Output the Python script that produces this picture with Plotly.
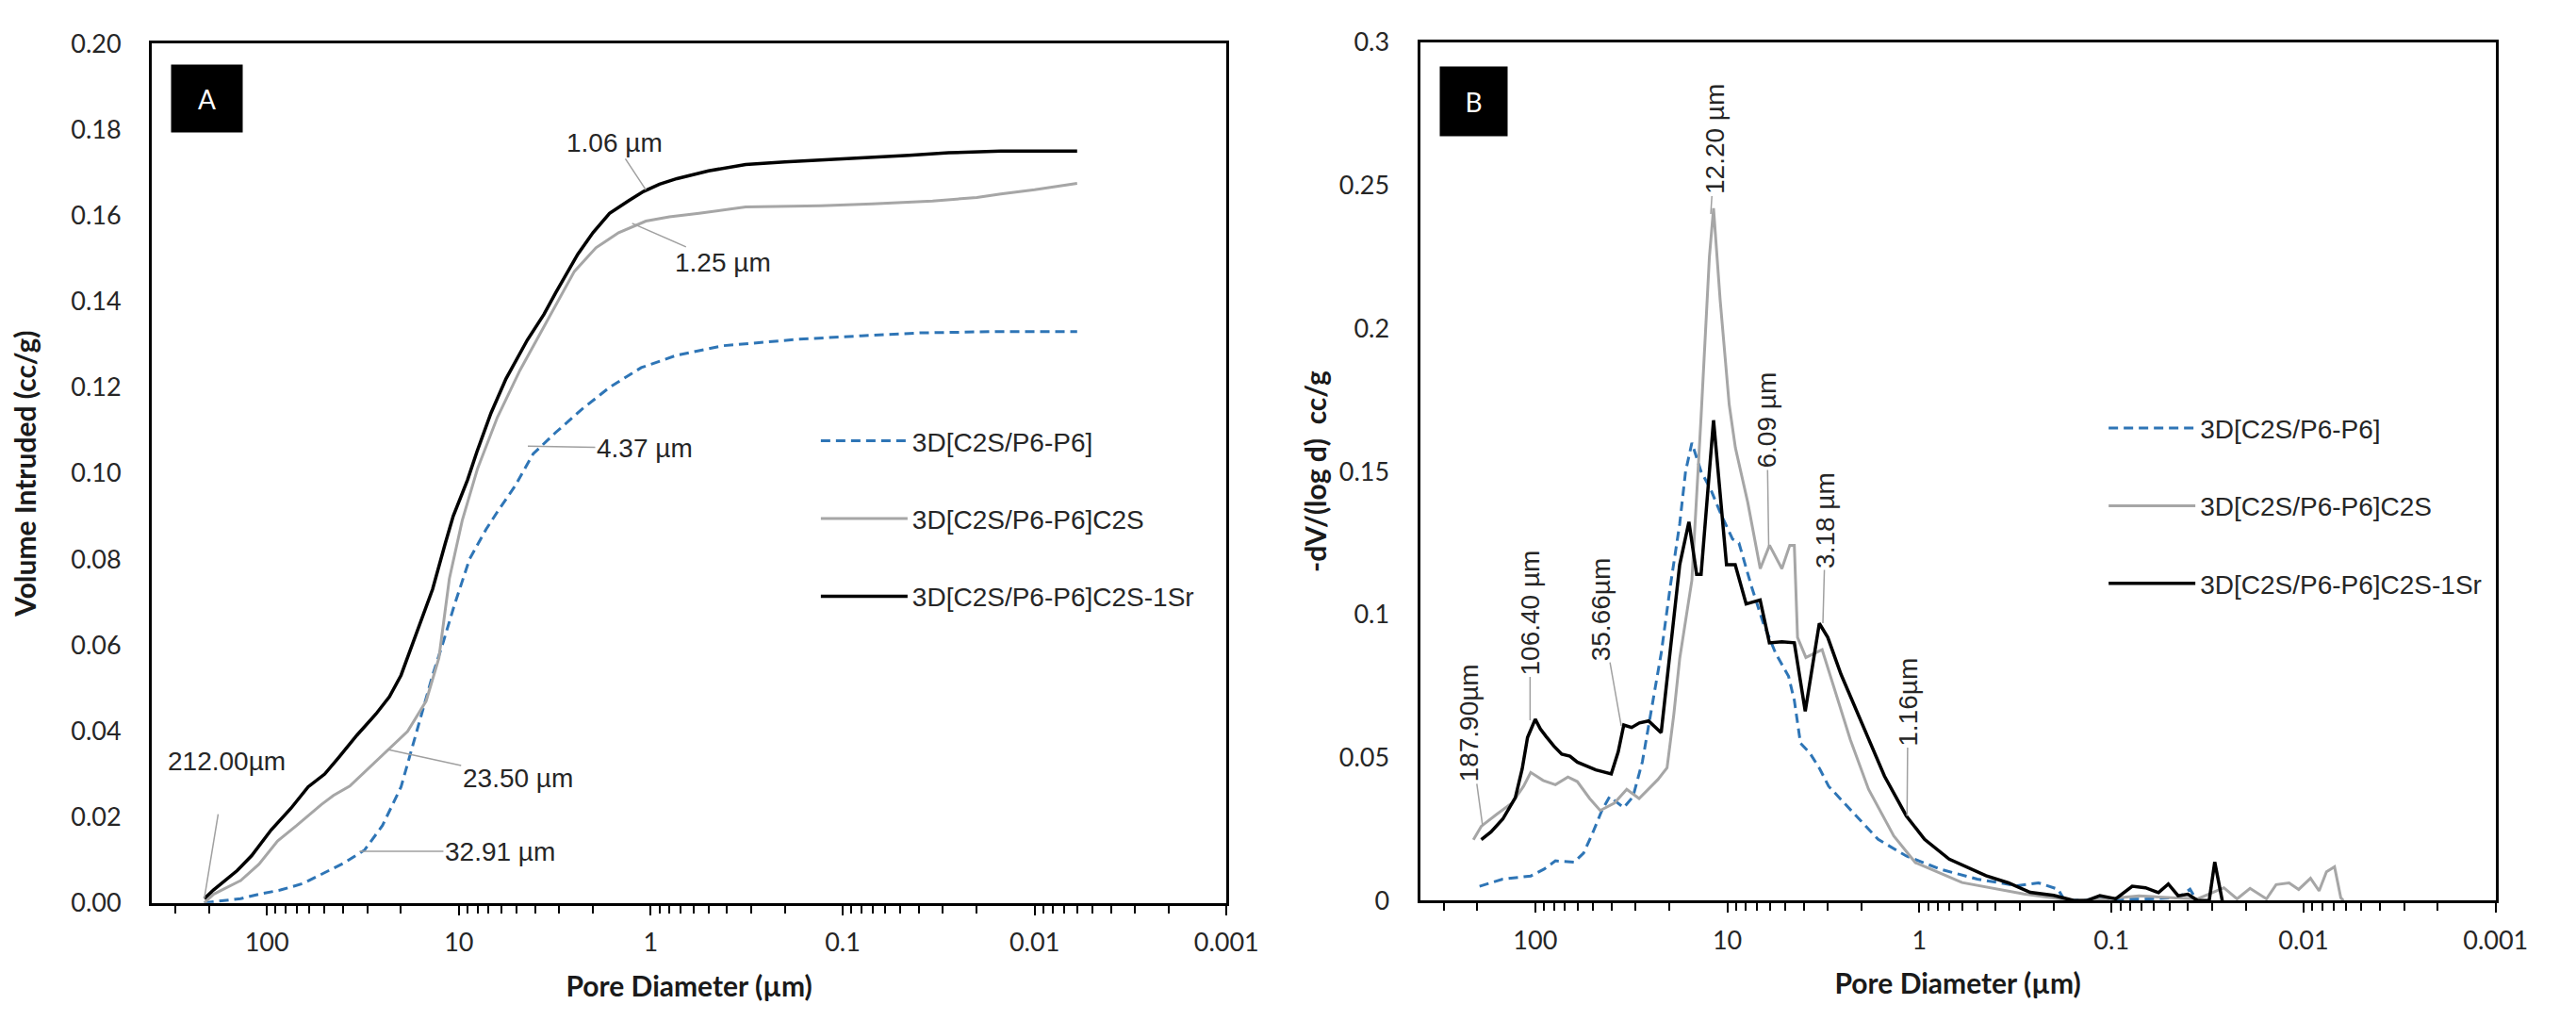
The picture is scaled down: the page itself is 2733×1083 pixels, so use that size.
import math
import plotly.graph_objects as go

# ---------------- Data ----------------
SERIES_NAMES = ["3D[C2S/P6-P6]", "3D[C2S/P6-P6]C2S", "3D[C2S/P6-P6]C2S-1Sr"]

# Panel A: cumulative volume intruded (cc/g) vs pore diameter (µm)
A_BLUE_D = [212, 170, 137, 110, 85, 65, 52, 40, 31, 25, 20, 16.5, 13.7, 12, 10.6, 8.8, 7.2, 6.3, 5.1, 4.1,
            3.13, 2.27, 1.64, 1.12, 0.73, 0.42, 0.17, 0.08, 0.039, 0.015, 0.006]
A_BLUE_V = [0.000, 0.0005, 0.001, 0.002, 0.003, 0.0045, 0.0066, 0.0092, 0.0123, 0.018, 0.027, 0.040, 0.053,
            0.061, 0.069, 0.080, 0.087, 0.091, 0.097, 0.1045, 0.1095, 0.115, 0.120, 0.1246, 0.1275, 0.1297,
            0.1312, 0.1320, 0.1327, 0.1330, 0.1330]

A_GRAY_D = [212, 190, 137, 110, 88, 70, 52, 45, 37, 30, 23.1, 18.5, 14.8, 12.7, 11.2, 9.6, 8.0, 6.3, 4.8,
            3.6, 2.5, 1.93, 1.47, 1.06, 0.8, 0.56, 0.32, 0.13, 0.07, 0.034, 0.02, 0.015, 0.01, 0.006]
A_GRAY_V = [0.000, 0.002, 0.0052, 0.009, 0.0144, 0.018, 0.0229, 0.025, 0.0272, 0.031, 0.0357, 0.0399, 0.047,
            0.057, 0.0755, 0.089, 0.101, 0.113, 0.124, 0.134, 0.147, 0.1525, 0.156, 0.1587, 0.1597, 0.1605,
            0.1620, 0.1623, 0.1627, 0.1634, 0.1642, 0.1650, 0.1660, 0.1675]

A_BLACK_D = [212, 190, 143, 120, 95, 75, 61, 50, 42, 34, 27, 23, 20, 16.5, 13.7, 11.8, 10.7, 9.0, 8.05,
             6.8, 5.68, 4.4, 3.6, 3.13, 2.4, 2.0, 1.64, 1.3, 1.09, 0.9, 0.73, 0.5, 0.32, 0.2, 0.12, 0.075,
             0.045, 0.028, 0.015, 0.01, 0.006]
A_BLACK_V = [0.001, 0.003, 0.0075, 0.011, 0.017, 0.022, 0.027, 0.030, 0.034, 0.039, 0.044, 0.048, 0.053,
             0.063, 0.073, 0.0835, 0.090, 0.0985, 0.105, 0.114, 0.122, 0.131, 0.137, 0.142, 0.151, 0.156,
             0.1605, 0.1635, 0.1656, 0.1673, 0.1686, 0.1704, 0.1719, 0.1725, 0.1730, 0.1734, 0.1740,
             0.1746, 0.1750, 0.1750, 0.1750]

# Panel B: -dV/(log d) (cc/g) vs pore diameter (µm)
B_BLUE_D = [195, 147.6, 105.6, 90, 78.5, 62.8, 56, 50, 45, 41, 34.6, 31, 27.7, 24.8, 22.1, 19.8, 17.7, 16.5,
            15.3, 13.7, 12.2, 10.9, 9.4, 8.7, 7.5, 6.5, 5.6, 4.8, 4.48, 4.16, 3.72, 3.3, 2.97, 2.21, 1.64,
            1.17, 0.78, 0.50, 0.31, 0.24, 0.19, 0.175, 0.11, 0.07, 0.045, 0.039, 0.036]
B_BLUE_V = [0.005, 0.0075, 0.0086, 0.011, 0.0139, 0.0134, 0.0166, 0.024, 0.0315, 0.0363, 0.0325, 0.0363,
            0.0485, 0.0664, 0.0864, 0.110, 0.1317, 0.150, 0.160, 0.150, 0.1437, 0.1357, 0.1264, 0.125, 0.110,
            0.097, 0.0864, 0.0784, 0.070, 0.055, 0.0516, 0.046, 0.040, 0.0307, 0.0214, 0.0156, 0.011,
            0.0075, 0.0052, 0.0062, 0.004, 0.000, 0.0006, 0.0005, 0.001, 0.004, 0.000]

B_GRAY_D = [210, 191, 160, 132, 115, 105.6, 91, 78.5, 67.6, 60.4, 52.1, 45.9, 38.7, 33.4, 28.8, 23, 20.6,
            19.0, 17.7, 15.3, 13.7, 12.4, 11.8, 10.9, 9.78, 9.08, 7.83, 6.74, 6.03, 5.2, 4.73, 4.48, 4.31,
            3.9, 3.21, 2.86, 2.29, 1.84, 1.36, 1.05, 0.60, 0.286, 0.157, 0.106, 0.072, 0.0486, 0.0356,
            0.026, 0.0222, 0.019, 0.0156, 0.0139, 0.0119, 0.0106, 0.0092, 0.0083, 0.0076, 0.0069, 0.0064,
            0.0062]
B_GRAY_V = [0.0213, 0.026, 0.030, 0.0341, 0.040, 0.0448, 0.042, 0.0405, 0.0432, 0.0416, 0.0357, 0.0315,
            0.0341, 0.0389, 0.0357, 0.0423, 0.0464, 0.065, 0.0846, 0.1119, 0.169, 0.225, 0.242, 0.210,
            0.1734, 0.1583, 0.1392, 0.116, 0.1242, 0.116, 0.1242, 0.1242, 0.092, 0.085, 0.0877, 0.0772,
            0.0563, 0.0389, 0.0226, 0.0133, 0.0063, 0.0023, 0.000, 0.0006, 0.0017, 0.001, 0.0006, 0.0045,
            0.0006, 0.0043, 0.0006, 0.0056, 0.0062, 0.0039, 0.0078, 0.0034, 0.0101, 0.0118, 0.001, 0.000]

B_BLACK_D = [191, 170, 147.6, 127, 117, 109.7, 100, 94, 87.7, 80, 72.8, 66, 60.4, 54, 48.4, 40.2, 37, 34.6,
             31.5, 28.7, 25.7, 22.1, 19.8, 17.7, 15.85, 14.45, 13.7, 11.8, 10.1, 9.1, 7.98, 6.75, 6.04, 5.2,
             4.48, 3.93, 3.32, 3.0, 2.56, 2.0, 1.84, 1.52, 1.17, 0.94, 0.70, 0.45, 0.344, 0.265, 0.20,
             0.157, 0.135, 0.115, 0.095, 0.078, 0.0665, 0.0569, 0.0506, 0.045, 0.04, 0.0356, 0.031, 0.029,
             0.0265]
B_BLACK_V = [0.0213, 0.024, 0.0285, 0.036, 0.046, 0.057, 0.0634, 0.060, 0.0573, 0.054, 0.0512, 0.0505,
             0.0484, 0.047, 0.0457, 0.0443, 0.052, 0.0614, 0.0605, 0.0621, 0.0628, 0.0587, 0.0873, 0.1174,
             0.1324, 0.114, 0.114, 0.1679, 0.1174, 0.1174, 0.1037, 0.1051, 0.0901, 0.0905, 0.0901, 0.0662,
             0.0969, 0.092, 0.0791, 0.062, 0.0563, 0.0435, 0.0296, 0.0214, 0.0145, 0.0087, 0.0062, 0.0029,
             0.0018, 0.000, 0.000, 0.0017, 0.0006, 0.005, 0.0045, 0.0028, 0.0058, 0.0017, 0.0022, 0.000,
             0.000, 0.0135, 0.000]

X_TICK_VALS = [100, 10, 1, 0.1, 0.01, 0.001]
X_TICK_TEXT = ["100", "10", "1", "0.1", "0.01", "0.001"]

# annotations: (text, diameter, value)
A_NOTES = [("1.06 µm", 1.06, 0.1660), ("1.25 µm", 1.25, 0.1582), ("4.37 µm", 4.37, 0.1063),
           ("23.50 µm", 23.5, 0.0357), ("32.91 µm", 32.91, 0.0120), ("212.00µm", 212.0, 0.0010)]
B_NOTES = [("187.90µm", 187.9, 0.026), ("106.40 µm", 106.4, 0.063), ("35.66µm", 35.66, 0.061),
           ("12.20 µm", 12.2, 0.240), ("6.09 µm", 6.09, 0.124), ("3.18 µm", 3.18, 0.097),
           ("1.16µm", 1.16, 0.0296)]

# ---------------- Styling ----------------
W, H = 2733, 1083
BLUE, GRAY, BLACK = "#2E75B6", "#A6A6A6", "#000000"
TICK_FONT = dict(family="Lato, Liberation Sans, sans-serif", size=27, color="#262626")
TITLE_FONT = dict(family="Lato, Liberation Sans, sans-serif", size=30, color="#1a1a1a")
NOTE_FONT = dict(family="Liberation Sans, Arial, sans-serif", size=28, color="#262626")
LEG_FONT = dict(family="Liberation Sans, Arial, sans-serif", size=28, color="#262626")

fig = go.Figure()
styles = [dict(color=BLUE, width=3, dash="10px,6px"), dict(color=GRAY, width=3), dict(color=BLACK, width=3.5)]

for i, (d, v) in enumerate([(A_BLUE_D, A_BLUE_V), (A_GRAY_D, A_GRAY_V), (A_BLACK_D, A_BLACK_V)]):
    fig.add_trace(go.Scatter(x=d, y=v, mode="lines", name=SERIES_NAMES[i], line=styles[i],
                             xaxis="x", yaxis="y", legend="legend", legendgroup="a%d" % i))
for i, (d, v) in enumerate([(B_BLUE_D, B_BLUE_V), (B_GRAY_D, B_GRAY_V), (B_BLACK_D, B_BLACK_V)]):
    fig.add_trace(go.Scatter(x=d, y=v, mode="lines", name=SERIES_NAMES[i], line=styles[i],
                             xaxis="x2", yaxis="y2", legend="legend2", legendgroup="b%d" % i))


def xaxis_style(domain):
    return dict(domain=domain, type="log", range=[2.6, -3], showline=True, mirror=True, linewidth=3,
                linecolor="black", showgrid=False, zeroline=False, ticks="outside", ticklen=10,
                tickwidth=2, tickcolor="black", tickmode="array", tickvals=X_TICK_VALS,
                ticktext=X_TICK_TEXT, tickfont=TICK_FONT, ticklabelstandoff=6,
                minor=dict(ticks="outside", ticklen=8, tickwidth=2, tickcolor="black", dtick="D1",
                           showgrid=False),
                title=dict(text="<b>Pore Diameter (µm)</b>", font=TITLE_FONT, standoff=22))


def yaxis_style(domain, rng, dtick, fmt, title, standoff):
    return dict(domain=domain, range=rng, dtick=dtick, tickformat=fmt, showline=True, mirror=True,
                linewidth=3, linecolor="black", showgrid=False, zeroline=False, ticks="",
                tickfont=TICK_FONT, ticklabelstandoff=24,
                title=dict(text="<b>%s</b>" % title, font=TITLE_FONT, standoff=standoff))


fig.update_layout(
    width=W, height=H, margin=dict(l=0, r=0, t=0, b=0),
    paper_bgcolor="white", plot_bgcolor="white",
    xaxis=xaxis_style([155 / W, 1310 / W]),
    yaxis=yaxis_style([1 - 961 / H, 1 - 21 / H], [0, 0.2], 0.02, ".2f", "Volume Intruded (cc/g)", 43),
    xaxis2=dict(xaxis_style([1518 / W, 2674 / W]), anchor="y2"),
    yaxis2=dict(yaxis_style([1 - 958.5 / H, 1 - 19.5 / H], [0, 0.3], 0.05, "", "-dV/(log d)  cc/g", 5),
                anchor="x2"),
    legend=dict(x=869 / W, y=1 - 430 / H, xanchor="left", yanchor="top", font=LEG_FONT,
                bgcolor="rgba(0,0,0,0)", traceorder="grouped", tracegroupgap=43, itemwidth=92),
    legend2=dict(x=2253 / W, y=1 - 416 / H, xanchor="left", yanchor="top", font=LEG_FONT,
                 bgcolor="rgba(0,0,0,0)", traceorder="grouped", tracegroupgap=43, itemwidth=92),
    showlegend=True,
)

# panel letters
for letter, cx, cy, bw, bh in [("A", 214.5, 80.5, 73, 69), ("B", 1575.5, 84.5, 69, 71)]:
    fig.add_annotation(xref="paper", yref="paper", x=cx / W, y=1 - cy / H, text=letter, showarrow=False,
                       bgcolor="black", width=bw, height=bh, xanchor="center", yanchor="middle",
                       font=dict(family="Lato, sans-serif", size=28, color="white"))

# leader-line labels (offsets are label placement in pixels)
A_OFFSETS = [(-33, -50, 0), (96, 42, 0), (124, 2, 0), (138, 30, 0), (149, 0, 0), (24, -146, 40)]
for (txt, d, v), (ax, ay, sso) in zip(A_NOTES, A_OFFSETS):
    fig.add_annotation(xref="x", yref="y", x=math.log10(d), y=v, text=txt, showarrow=True, arrowhead=0,
                       arrowwidth=1.5, arrowcolor="#A0A0A0", ax=ax, ay=ay, startstandoff=sso,
                       font=NOTE_FONT)

B_OFFSETS = [(-15, -109), (0, -114), (-22, -124), (5, -79), (-2, -133), (3, -109), (1, -121)]
for (txt, d, v), (ax, ay) in zip(B_NOTES, B_OFFSETS):
    fig.add_annotation(xref="x2", yref="y2", x=math.log10(d), y=v, text=txt, showarrow=True, arrowhead=0,
                       arrowwidth=1.5, arrowcolor="#A0A0A0", ax=ax, ay=ay, textangle=-90,
                       font=NOTE_FONT)

fig.write_html("out.html")
